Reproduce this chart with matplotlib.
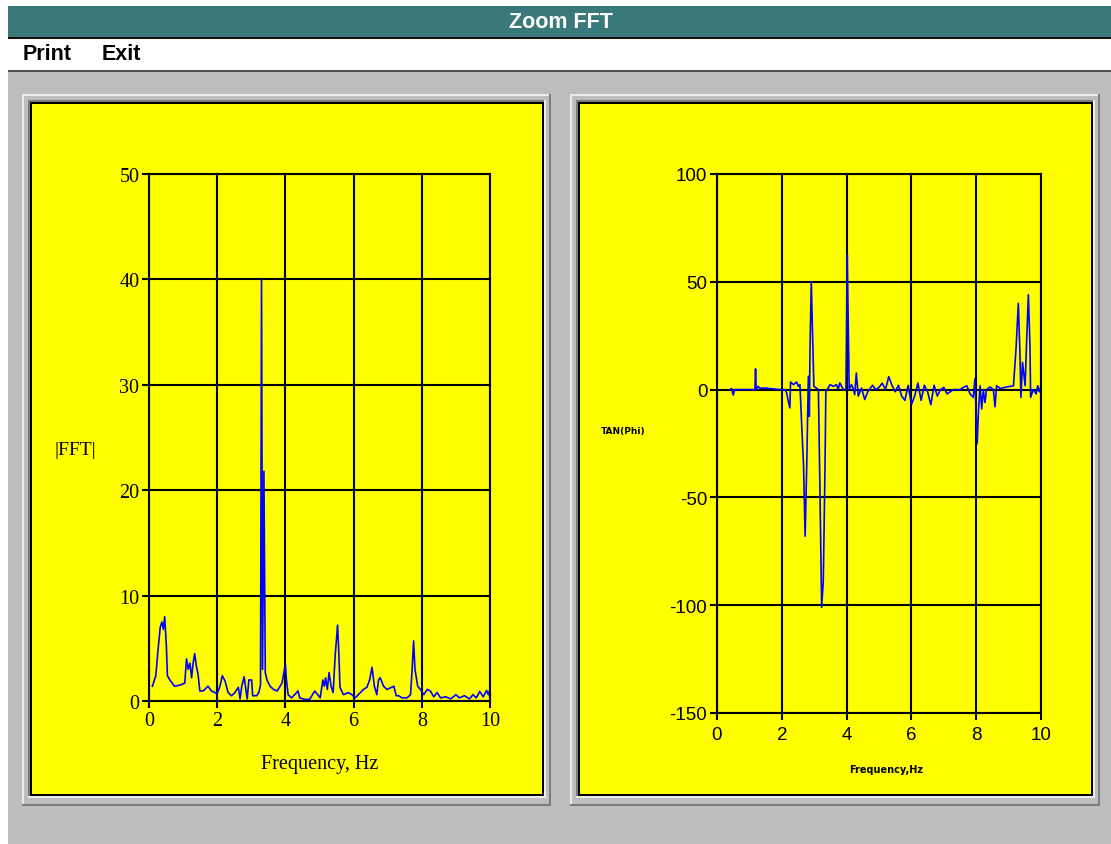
import matplotlib
matplotlib.use("Agg")
import matplotlib.pyplot as plt
from matplotlib.patches import Rectangle

plt.rcParams['axes.unicode_minus'] = False

# ---- Spectrum magnitude |FFT| ----
fft_freq = [0.10, 0.20, 0.26, 0.33, 0.38, 0.42, 0.46, 0.51, 0.54, 0.61, 0.75, 0.90,
            1.05, 1.10, 1.15, 1.20, 1.25, 1.29, 1.34, 1.39, 1.44, 1.49, 1.59, 1.73,
            1.83, 2.00, 2.08, 2.15, 2.23, 2.32, 2.42, 2.52, 2.62, 2.67, 2.72, 2.79,
            2.84, 2.88, 2.93, 3.01, 3.04, 3.16, 3.22, 3.27, 3.30, 3.33, 3.37, 3.41,
            3.46, 3.55, 3.65, 3.76, 3.90, 3.96, 4.00, 4.03, 4.08, 4.18, 4.27, 4.37,
            4.42, 4.56, 4.71, 4.86, 4.95, 5.02, 5.10, 5.14, 5.18, 5.23, 5.28, 5.34,
            5.40, 5.46, 5.53, 5.57, 5.60, 5.70, 5.85, 5.95, 6.05, 6.20, 6.29, 6.39,
            6.47, 6.54, 6.61, 6.68, 6.73, 6.78, 6.88, 6.98, 7.18, 7.25, 7.32, 7.42,
            7.57, 7.67, 7.72, 7.76, 7.80, 7.88, 7.96, 8.06, 8.16, 8.25, 8.35, 8.45,
            8.55, 8.70, 8.85, 9.00, 9.10, 9.25, 9.40, 9.50, 9.60, 9.70, 9.80, 9.90,
            9.95, 10.0]
fft_mag = [1.4, 2.4, 4.7, 7.0, 7.5, 6.8, 8.0, 5.2, 2.4, 2.0, 1.4, 1.5,
           1.7, 4.0, 3.0, 3.6, 2.2, 3.5, 4.5, 3.3, 2.5, 0.95, 0.95, 1.4,
           0.95, 0.7, 1.4, 2.4, 1.9, 0.8, 0.5, 0.8, 1.3, 0.2, 1.4, 2.3,
           1.1, 0.2, 2.0, 2.0, 0.5, 0.5, 0.8, 1.5, 40.0, 3.0, 21.8, 2.7,
           2.0, 1.4, 1.1, 0.95, 1.7, 2.8, 3.5, 2.0, 0.6, 0.3, 0.6, 0.95,
           0.3, 0.15, 0.15, 0.95, 0.6, 0.3, 2.0, 1.4, 2.2, 1.1, 2.7, 1.4,
           0.8, 4.3, 7.2, 4.3, 1.3, 0.6, 0.8, 0.6, 0.3, 0.8, 1.1, 1.3,
           2.0, 3.2, 1.4, 0.6, 2.0, 2.2, 1.4, 1.1, 1.4, 0.5, 0.5, 0.3,
           0.3, 0.6, 3.2, 5.7, 3.0, 1.4, 1.1, 0.6, 1.1, 0.95, 0.4, 0.8,
           0.3, 0.4, 0.2, 0.6, 0.3, 0.5, 0.2, 0.6, 0.3, 0.9, 0.4, 1.0,
           0.6, 1.1]

# ---- Phase tangent TAN(Phi) ----
tan_freq = [0.40, 0.45, 0.50, 0.55, 0.70, 1.00, 1.17, 1.19, 1.21, 1.27, 1.32, 1.50,
            1.95, 2.10, 2.15, 2.20, 2.25, 2.27, 2.36, 2.46, 2.51, 2.56, 2.62, 2.67,
            2.72, 2.77, 2.82, 2.85, 2.87, 2.91, 2.95, 2.99, 3.07, 3.13, 3.18, 3.23,
            3.28, 3.33, 3.36, 3.43, 3.49, 3.59, 3.69, 3.74, 3.79, 3.90, 3.98, 4.02,
            4.05, 4.08, 4.15, 4.20, 4.25, 4.30, 4.36, 4.46, 4.56, 4.66, 4.80, 4.90,
            5.00, 5.10, 5.20, 5.30, 5.40, 5.50, 5.60, 5.70, 5.80, 5.90, 6.00, 6.10,
            6.20, 6.30, 6.40, 6.50, 6.60, 6.70, 6.80, 6.90, 7.00, 7.10, 7.30, 7.50,
            7.60, 7.71, 7.81, 7.91, 7.96, 8.03, 8.07, 8.12, 8.17, 8.22, 8.27, 8.32,
            8.43, 8.53, 8.58, 8.63, 8.74, 8.94, 9.15, 9.23, 9.30, 9.35, 9.38, 9.43,
            9.51, 9.56, 9.61, 9.66, 9.68, 9.76, 9.85, 9.90, 9.95, 10.0]
tan_phi = [0.0, 0.5, -2.5, 0.0, 0.0, 0.0, 0.0, 9.6, 0.0, 1.5, 0.7, 0.7,
           0.0, 0.0, -1.5, -5.4, -8.5, 3.5, 2.3, 3.5, 1.5, 2.3, -18.5, -34.8,
           -68.0, -34.8, 6.2, -12.4, 18.5, 50.0, 25.5, 1.5, 0.7, 0.0, -49.5, -101.0,
           -89.0, -40.0, -0.8, 0.7, 2.3, 1.5, 2.3, 0.0, 3.1, 0.0, 0.0, 62.6,
           31.0, 0.0, 2.3, 0.7, -2.3, 7.7, -3.0, 0.7, -4.6, -0.8, 2.0, 0.0,
           1.0, 3.0, 0.0, 6.0, 2.0, -1.0, 2.0, -3.0, -5.0, 2.0, -7.0, -3.0,
           3.0, -5.0, 2.0, -1.0, -7.0, 2.0, -3.0, 0.0, 1.0, -2.0, 0.0, 0.0,
           1.0, 1.8, -2.0, -3.6, 5.0, -25.0, -10.0, 1.8, -9.0, 0.0, -6.0, 0.0,
           1.2, 0.0, -8.0, 1.8, 0.5, 1.2, 1.8, 19.0, 40.0, 17.0, -3.6, 12.6,
           1.8, 24.0, 44.0, 20.0, -3.6, 0.0, -2.0, 1.8, -1.0, 1.5]

W, H = 1111, 845
YELLOW = '#ffff00'
GRAY = '#bdbdbd'
LIGHT = '#ececec'
DARK = '#7c7c7c'
TEAL = '#3a7979'

fig = plt.figure(figsize=(W / 100, H / 100), dpi=100)
fig.patch.set_facecolor('white')

# window chrome drawn in pixel coordinates
bg = fig.add_axes([0, 0, 1, 1])
bg.set_xlim(0, W)
bg.set_ylim(H, 0)
bg.axis('off')


def box(x0, y0, x1, y1, color):
    bg.add_patch(Rectangle((x0, y0), x1 - x0, y1 - y0, facecolor=color,
                           edgecolor='none', linewidth=0))


# title bar and menu
box(8, 7, W, 38, TEAL)
box(8, 38, W, 40, '#101010')
box(8, 40, W, 71, 'white')
box(8, 71, W, 73, '#505050')
box(8, 73, W, H, GRAY)
bg.text(561, 23, 'Zoom FFT', color='white', fontsize=15.5, fontweight='bold',
        family='Liberation Sans', ha='center', va='center')
bg.text(23, 55, 'Print', color='black', fontsize=15.5, fontweight='bold',
        family='Liberation Sans', ha='left', va='center')
bg.text(102, 55, 'Exit', color='black', fontsize=15.5, fontweight='bold',
        family='Liberation Sans', ha='left', va='center')


def panel(ox0, oy0, ox1, oy1, yx0, yy0, yx1, yy1):
    # raised outer frame
    box(ox0, oy0, ox1, oy0 + 2, LIGHT)
    box(ox0, oy0, ox0 + 2, oy1, LIGHT)
    box(ox0, oy1 - 2, ox1, oy1, DARK)
    box(ox1 - 2, oy0, ox1, oy1, DARK)
    # sunken inner frame
    box(yx0 - 4, yy0 - 4, yx1 + 4, yy0 - 2, DARK)
    box(yx0 - 4, yy0 - 4, yx0 - 2, yy1 + 4, DARK)
    box(yx0 - 4, yy1 + 2, yx1 + 4, yy1 + 4, LIGHT)
    box(yx1 + 2, yy0 - 4, yx1 + 4, yy1 + 4, LIGHT)
    # yellow plotting card with black border
    box(yx0 - 2, yy0 - 2, yx1 + 2, yy1 + 2, 'black')
    box(yx0, yy0, yx1, yy1, YELLOW)


panel(22, 95, 551, 807, 32, 105, 542, 795)
panel(570, 95, 1100, 807, 580, 105, 1091, 795)


def px_axes(x0, y0, x1, y1):
    return fig.add_axes([x0 / W, 1 - y1 / H, (x1 - x0) / W, (y1 - y0) / H])


def style(ax, family, size):
    ax.set_facecolor(YELLOW)
    ax.set_axisbelow(True)
    ax.grid(True, color='black', linewidth=1.5)
    for s in ax.spines.values():
        s.set_color('black')
        s.set_linewidth(1.5)
    ax.tick_params(direction='out', length=5, width=1.5, color='black',
                   labelsize=size, pad=2)
    for lab in ax.get_xticklabels() + ax.get_yticklabels():
        lab.set_family(family)


# left: magnitude spectrum
ax1 = px_axes(149, 175, 490, 702)
ax1.plot(fft_freq, fft_mag, color='#0000ff', linewidth=1.2)
ax1.set_xlim(0, 10)
ax1.set_ylim(0, 50)
ax1.set_xticks(range(0, 11, 2))
ax1.set_yticks(range(0, 51, 10))
style(ax1, 'Liberation Serif', 14.5)
bg.text(75, 451, '|FFT|', fontsize=14, family='Liberation Serif',
        ha='center', va='center')
bg.text(320, 765, 'Frequency, Hz', fontsize=14.5, family='Liberation Serif',
        ha='center', va='center')

# right: tangent of phase
ax2 = px_axes(717, 175, 1041, 714)
ax2.plot(tan_freq, tan_phi, color='#0000ff', linewidth=1.2)
ax2.set_xlim(0, 10)
ax2.set_ylim(-150, 100)
ax2.set_xticks(range(0, 11, 2))
ax2.set_yticks(range(-150, 101, 50))
style(ax2, 'Liberation Sans', 13.5)
ax2.tick_params(axis='x', pad=4)
bg.text(623, 432, 'TAN(Phi)', fontsize=6.5, fontweight='bold',
        family='DejaVu Sans', ha='center', va='center')
bg.text(886, 770, 'Frequency,Hz', fontsize=7, fontweight='bold',
        family='DejaVu Sans', ha='center', va='center')

fig.savefig('out.png', dpi=100)
